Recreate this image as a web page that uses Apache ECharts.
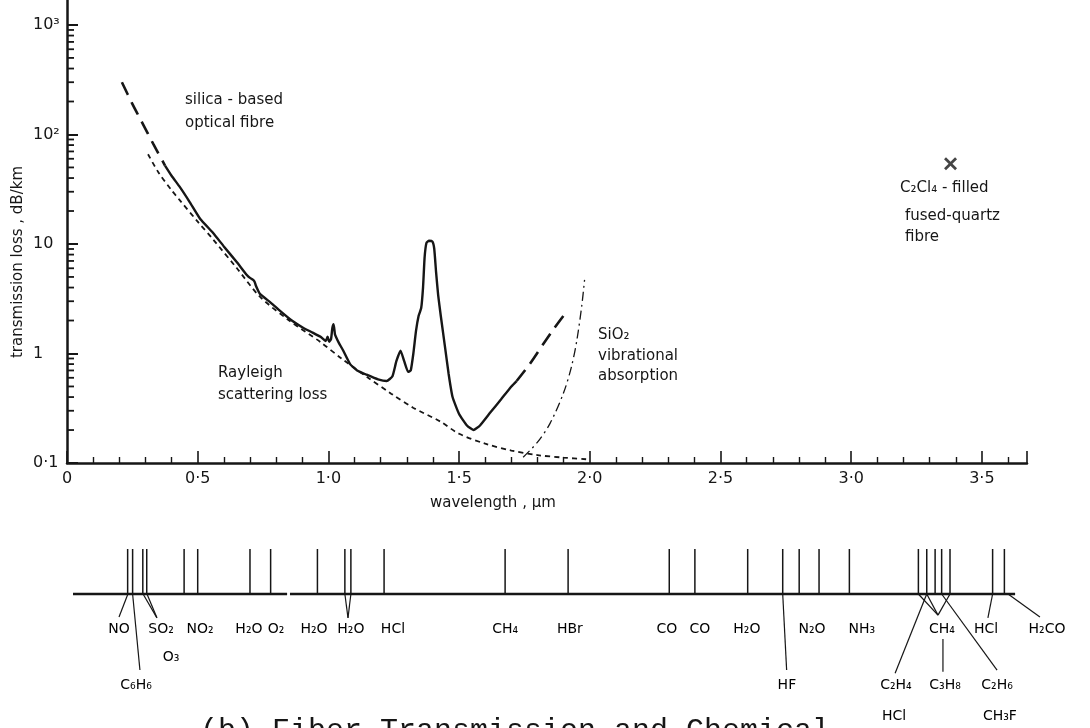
<!DOCTYPE html>
<html><head><meta charset="utf-8">
<script src="https://cdn.jsdelivr.net/npm/echarts@6/dist/echarts.min.js"></script>
<style>html,body{margin:0;padding:0;background:#fff}#c{width:1090px;height:728px}</style>
</head><body><div id="c"></div>
<script>
// ---------- data (wavelength in µm, loss in dB/km) ----------
const xTickLabels = {'0':'0','0.5':'0·5','1':'1·0','1.5':'1·5','2':'2·0','2.5':'2·5','3':'3·0','3.5':'3·5'};
const yTickLabels = {'-1':'0·1','0':'1','1':'10','2':'10²','3':'10³'};

const fibreLossSolid = [
  [0.375,52],[0.40,42],[0.432,33],[0.47,24],[0.509,17],[0.559,12.6],[0.60,9.5],[0.65,6.8],
  [0.688,5.2],[0.70,4.9],[0.712,4.7],[0.718,4.5],[0.722,4.2],[0.73,3.8],[0.738,3.5],[0.78,2.9],
  [0.815,2.45],[0.86,2.0],[0.903,1.72],[0.94,1.55],[0.97,1.42],[0.99,1.3],[0.997,1.42],[1.003,1.28],
  [1.01,1.35],[1.015,1.7],[1.02,1.85],[1.025,1.5],[1.03,1.4],[1.04,1.25],[1.056,1.07],[1.083,0.8],
  [1.11,0.7],[1.146,0.64],[1.19,0.58],[1.223,0.56],[1.245,0.62],[1.26,0.85],[1.276,1.06],[1.29,0.85],
  [1.305,0.68],[1.315,0.7],[1.325,1.0],[1.335,1.6],[1.345,2.2],[1.355,2.6],[1.362,4],[1.368,7.5],
  [1.375,10.2],[1.385,10.7],[1.398,10.5],[1.405,9],[1.412,5.5],[1.42,3.4],[1.43,2.2],[1.445,1.2],
  [1.46,0.65],[1.475,0.4],[1.50,0.28],[1.53,0.22],[1.555,0.2],[1.58,0.22],[1.62,0.29],[1.66,0.38],
  [1.70,0.5],[1.72,0.56]
];
const fibreLossDashedUV = [[0.21,300],[0.25,190],[0.29,125],[0.33,82],[0.375,52]];
const fibreLossDashedIR = [[1.72,0.56],[1.77,0.8],[1.82,1.2],[1.86,1.65],[1.905,2.3]];
const rayleighLoss = [
  [0.31,66],[0.35,45],[0.40,31],[0.432,25],[0.50,16],[0.559,11],[0.65,6],[0.738,3.3],[0.85,2.0],
  [0.968,1.28],[1.05,0.9],[1.148,0.61],[1.24,0.43],[1.324,0.32],[1.427,0.24],[1.5,0.185],[1.6,0.15],
  [1.7,0.13],[1.8,0.118],[1.9,0.112],[1.99,0.108]
];
const sio2Absorption = [[1.745,0.113],[1.80,0.155],[1.848,0.23],[1.90,0.44],[1.93,0.76],[1.95,1.3],[1.969,2.7],[1.98,4.7]];
const c2cl4Point = [[3.38,54]];
const yMinorTicks = [0.2,0.3,0.4,0.5,0.6,0.7,0.8,0.9,2,3,4,5,6,7,8,9,20,30,40,50,60,70,80,90,200,300,400,500,600,700,800,900];

// chemical absorption lines (µm)
const absorptionLines = [0.232,0.251,0.290,0.305,0.448,0.50,0.70,0.779,0.958,1.063,1.086,1.213,1.676,1.917,
  2.304,2.402,2.604,2.738,2.801,2.877,2.993,3.257,3.289,3.321,3.346,3.378,3.541,3.586];
const baselineSegments = [[0.023,0,0.842,0],[0.853,0,3.627,0]];
const leaderLines = [
  [0.233,0,0.199,-0.51],[0.251,0,0.279,-1.69],[0.291,0,0.344,-0.53],[0.306,0,0.344,-0.53],
  [1.063,0,1.075,-0.53],[1.086,0,1.075,-0.53],[2.738,0,2.753,-1.69],
  [3.257,0,3.332,-0.47],[3.289,0,3.332,-0.47],[3.378,0,3.332,-0.47],
  [3.289,0,3.168,-1.76],[3.351,-1.0,3.351,-1.73],[3.346,0,3.558,-1.69],
  [3.541,0,3.523,-0.53],[3.6,0,3.722,-0.51]
];
const chemNames = ['NO','SO₂','O₃','C₆H₆','NO₂','H₂O','O₂','H₂O','H₂O','HCl','CH₄','HBr','CO','CO','H₂O','N₂O','NH₃','CH₄','HCl','H₂CO','HF','C₂H₄','C₃H₈','C₂H₆','HCl','CH₃F'];
const chemLabelX = [0.199,0.360,0.398,0.264,0.509,0.696,0.800,0.945,1.086,1.247,1.676,1.924,2.295,2.421,2.601,2.850,3.041,3.347,3.516,3.749,2.754,3.171,3.359,3.558,3.164,3.569];
const chemLabelRow = [-0.78,-0.78,-1.40,-2.02,-0.78,-0.78,-0.78,-0.78,-0.78,-0.78,-0.78,-0.78,-0.78,-0.78,-0.78,-0.78,-0.78,-0.78,-0.78,-0.78,-2.02,-2.02,-2.02,-2.02,-2.73,-2.73];

// ---------- chart ----------
const INK = '#161616';
const FONT = 'DejaVu Sans';
const PX_PER_UM = 261.4;

function segRender(lw){
  return function(params, api){
    const a = api.coord([api.value(0), api.value(1)]);
    const b = api.coord([api.value(2), api.value(3)]);
    return {type:'line', shape:{x1:a[0],y1:a[1],x2:b[0],y2:b[1]}, style:{stroke:INK, lineWidth:lw}};
  };
}

const chart = echarts.init(document.getElementById('c'), null, {renderer:'canvas'});
chart.setOption({
  animation:false,
  backgroundColor:'#fff',
  grid:[
    {left:67, right:63, top:0, bottom:265},
    {left:67, right:0, top:549, bottom:3.5}
  ],
  xAxis:[
    {type:'value', gridIndex:0, min:0, max:960/PX_PER_UM, interval:0.5,
     axisLine:{lineStyle:{color:INK,width:2.5}},
     axisTick:{inside:true,length:12,lineStyle:{color:INK,width:1.6}},
     minorTick:{show:true,splitNumber:5,length:6,lineStyle:{color:INK,width:1.4}},
     splitLine:{show:false},
     axisLabel:{showMaxLabel:false,margin:8,color:INK,fontFamily:FONT,fontSize:16,
       formatter:v=>{const k=String(Math.round(v*10)/10);return xTickLabels[k]!==undefined?xTickLabels[k]:'';}}},
    {type:'value', gridIndex:1, min:0, max:1023/PX_PER_UM, show:false}
  ],
  yAxis:[
    {type:'log', gridIndex:0, logBase:10, min:0.1, max:1690,
     axisLine:{lineStyle:{color:INK,width:2.5}},
     axisTick:{inside:true,length:11,lineStyle:{color:INK,width:2}},
     splitLine:{show:false},
     axisLabel:{showMaxLabel:false,align:'left',margin:34,color:INK,fontFamily:FONT,fontSize:16,
       formatter:v=>{const e=Math.log10(v);const r=Math.round(e);if(Math.abs(e-r)>1e-6)return '';return yTickLabels[String(r)]||'';}}},
    {type:'value', gridIndex:1, min:-2.9, max:1, show:false}
  ],
  graphic:[
    {type:'text', x:185, y:100, style:{text:'silica - based', font:'15px "DejaVu Sans"', fill:INK, verticalAlign:'middle'}},
    {type:'text', x:185, y:123, style:{text:'optical fibre', font:'15px "DejaVu Sans"', fill:INK, verticalAlign:'middle'}},
    {type:'text', x:218, y:373, style:{text:'Rayleigh', font:'15px "DejaVu Sans"', fill:INK, verticalAlign:'middle'}},
    {type:'text', x:218, y:395, style:{text:'scattering loss', font:'15px "DejaVu Sans"', fill:INK, verticalAlign:'middle'}},
    {type:'text', x:598, y:335, style:{text:'SiO₂', font:'15px "DejaVu Sans"', fill:INK, verticalAlign:'middle'}},
    {type:'text', x:598, y:356, style:{text:'vibrational', font:'15px "DejaVu Sans"', fill:INK, verticalAlign:'middle'}},
    {type:'text', x:598, y:376, style:{text:'absorption', font:'15px "DejaVu Sans"', fill:INK, verticalAlign:'middle'}},
    {type:'text', x:900, y:188, style:{text:'C₂Cl₄ - filled', font:'15px "DejaVu Sans"', fill:INK, verticalAlign:'middle'}},
    {type:'text', x:905, y:216, style:{text:'fused-quartz', font:'15px "DejaVu Sans"', fill:INK, verticalAlign:'middle'}},
    {type:'text', x:905, y:237, style:{text:'fibre', font:'15px "DejaVu Sans"', fill:INK, verticalAlign:'middle'}},
    {type:'text', x:430, y:503, style:{text:'wavelength , µm', font:'15px "DejaVu Sans"', fill:INK, verticalAlign:'middle'}},
    {type:'text', x:18, y:262, rotation:Math.PI/2, style:{text:'transmission loss , dB/km', font:'15px "DejaVu Sans"', fill:INK, align:'center', verticalAlign:'middle'}},
    {type:'text', x:200, y:731, style:{text:'(b) Fiber Transmission and Chemical', font:'30px "Liberation Mono"', fill:INK, verticalAlign:'middle'}}
  ],
  series:[
    {type:'line', xAxisIndex:0, yAxisIndex:0, data:fibreLossSolid, showSymbol:false, smooth:0.15,
     lineStyle:{color:INK,width:2.4}},
    {type:'line', xAxisIndex:0, yAxisIndex:0, data:fibreLossDashedUV, showSymbol:false, smooth:0.3,
     lineStyle:{color:INK,width:2.6,type:[14,8]}},
    {type:'line', xAxisIndex:0, yAxisIndex:0, data:fibreLossDashedIR, showSymbol:false, smooth:0.3,
     lineStyle:{color:INK,width:2.6,type:[14,8]}},
    {type:'line', xAxisIndex:0, yAxisIndex:0, data:rayleighLoss, showSymbol:false, smooth:0.3,
     lineStyle:{color:INK,width:1.8,type:[5,4]}},
    {type:'line', xAxisIndex:0, yAxisIndex:0, data:sio2Absorption, showSymbol:false, smooth:0.3,
     lineStyle:{color:INK,width:1.3,type:[9,4,2,4]}},
    {type:'scatter', xAxisIndex:0, yAxisIndex:0, data:c2cl4Point, symbolSize:13,
     symbol:'path://M0,1.5L1.5,0L5,3.5L8.5,0L10,1.5L6.5,5L10,8.5L8.5,10L5,6.5L1.5,10L0,8.5L3.5,5Z',
     itemStyle:{color:INK}},
    {type:'custom', xAxisIndex:0, yAxisIndex:0, data:yMinorTicks.map(v=>[0,v]), encode:{x:0,y:1},
     renderItem:(params, api)=>{const p=api.coord([0,api.value(1)]);return {type:'line',shape:{x1:p[0],y1:p[1],x2:p[0]+7,y2:p[1]},style:{stroke:INK,lineWidth:1.8}};}},
    {type:'custom', xAxisIndex:1, yAxisIndex:1, data:absorptionLines.map(l=>[l,0,l,1]), encode:{x:[0,2],y:[1,3]},
     renderItem:segRender(1.5)},
    {type:'custom', xAxisIndex:1, yAxisIndex:1, data:baselineSegments, encode:{x:[0,2],y:[1,3]},
     renderItem:segRender(2.6)},
    {type:'custom', xAxisIndex:1, yAxisIndex:1, data:leaderLines, encode:{x:[0,2],y:[1,3]},
     renderItem:segRender(1.2)},
    {type:'scatter', xAxisIndex:1, yAxisIndex:1, symbolSize:0, clip:false,
     data:chemNames.map((n,i)=>({name:n, value:[chemLabelX[i], chemLabelRow[i]]})),
     itemStyle:{color:INK, opacity:1},
     label:{show:true, position:'inside', formatter:p=>p.name, color:'#000', opacity:1,
       textBorderWidth:0, fontFamily:FONT, fontSize:14}}
  ]
});
</script></body></html>
